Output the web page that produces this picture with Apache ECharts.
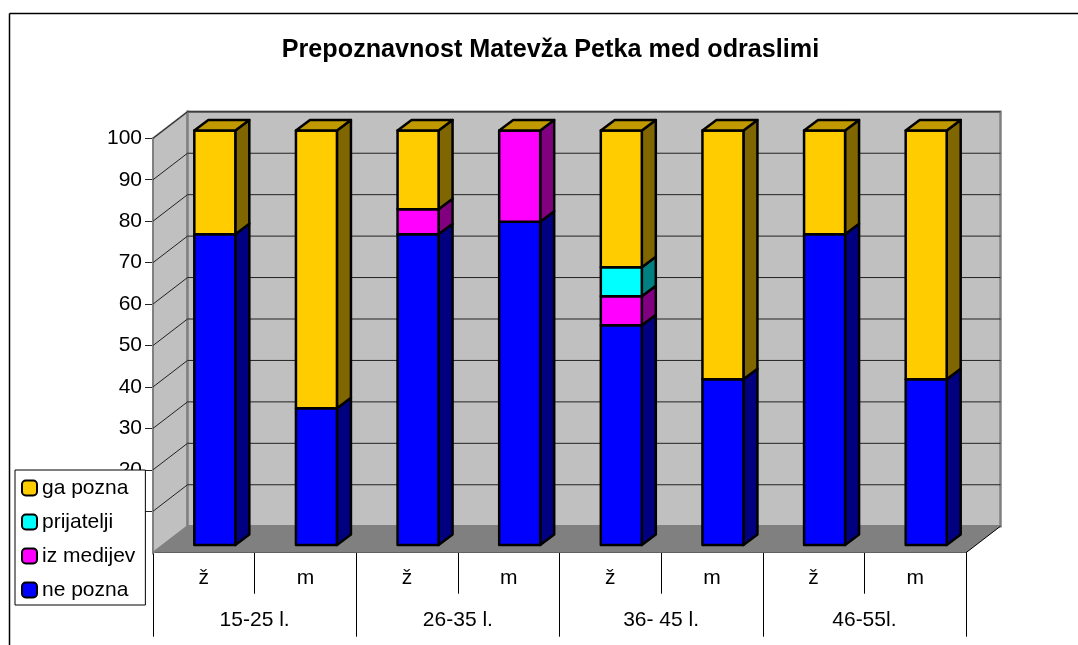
<!DOCTYPE html>
<html>
<head>
<meta charset="utf-8">
<title>Prepoznavnost Matevža Petka med odraslimi</title>
<script src="https://cdn.jsdelivr.net/npm/echarts@6/dist/echarts.min.js"></script>
<style>
  html, body { margin: 0; padding: 0; background: #fff; }
  #chart { width: 1078px; height: 645px; }
</style>
</head>
<body>
<div id="chart"></div>
<script>
const genders = ['ž', 'm', 'ž', 'm', 'ž', 'm', 'ž', 'm'];
const ageGroups = ['15-25 l.', '26-35 l.', '36- 45 l.', '46-55l.'];
const yTicks = [10, 20, 30, 40, 50, 60, 70, 80, 90, 100];

const nePozna = [75, 33, 75, 78, 53, 40, 75, 40];
const izMedijev = [0, 0, 6, 22, 7, 0, 0, 0];
const prijatelji = [0, 0, 0, 0, 7, 0, 0, 0];
const gaPozna = [25, 67, 19, 0, 33, 60, 25, 60];

const fontFamily = '"Liberation Sans", Arial, sans-serif';

// 3d look: how far the back wall and the bars are shifted from the front plane
const wallDx = 34.5, wallDy = -26.5;
const barDx = 11, barDy = -7.7, barW = 41;
const depthDx = 14, depthDy = -10.5;

const myChart = echarts.init(document.getElementById('chart'));

// running totals, so every segment knows where it starts
const totals = genders.map(() => 0);
function segments(values) {
  return values.map((v, i) => {
    const start = totals[i];
    totals[i] += v;
    return [i, start, totals[i]];
  });
}

function barItem(color, side, top) {
  return function (params, api) {
    const from = api.value(1), to = api.value(2);
    const p0 = api.coord([api.value(0), from]);
    const p1 = api.coord([api.value(0), to]);
    const x0 = p0[0] + barDx - barW / 2, x1 = x0 + barW;
    const y0 = p0[1] + barDy, y1 = p1[1] + barDy;
    const line = { stroke: '#000', lineWidth: 2.5, lineJoin: 'round' };
    const children = [];
    if (to > from) {
      children.push(
        { type: 'polygon', shape: { points: [[x1, y0], [x1 + depthDx, y0 + depthDy], [x1 + depthDx, y1 + depthDy], [x1, y1]] },
          style: Object.assign({ fill: side }, line) },
        { type: 'rect', shape: { x: x0, y: y1, width: barW, height: y0 - y1 },
          style: Object.assign({ fill: color }, line) }
      );
    }
    // the top series keeps its lid even where its value is 0
    if (top) {
      children.push({ type: 'polygon', shape: { points: [[x0, y1], [x0 + depthDx, y1 + depthDy], [x1 + depthDx, y1 + depthDy], [x1, y1]] },
        style: Object.assign({ fill: top }, line) });
    }
    return { type: 'group', children: children };
  };
}

function barSeries(name, values, color, side, top) {
  return {
    name: name,
    type: 'custom',
    data: segments(values),
    encode: { x: 0, y: [1, 2] },
    itemStyle: { color: color },
    renderItem: barItem(color, side, top),
    z: 5
  };
}

// walls and floor
function renderWalls(params, api) {
  const g = params.coordSys;
  const l = g.x, r = g.x + g.width, t = g.y, b = g.y + g.height;
  const grey = '#808080';
  return {
    type: 'group',
    children: [
      { type: 'polygon', shape: { points: [[l, t], [l + wallDx, t + wallDy], [l + wallDx, b + wallDy], [l, b]] },
        style: { fill: '#C0C0C0', stroke: grey, lineWidth: 2 } },
      { type: 'rect', shape: { x: l + wallDx, y: t + wallDy, width: g.width, height: g.height },
        style: { fill: '#C0C0C0', stroke: grey, lineWidth: 2.5 } },
      { type: 'polygon', shape: { points: [[l, b], [l + wallDx, b + wallDy], [r + wallDx, b + wallDy], [r, b]] },
        style: { fill: grey } },
      { type: 'line', shape: { x1: r, y1: b, x2: r + wallDx, y2: b + wallDy }, style: { stroke: '#000', lineWidth: 1 } }
    ]
  };
}

function renderGridLine(params, api) {
  const g = params.coordSys;
  const y = api.coord([0, api.value(0)])[1];
  const style = { stroke: '#222', lineWidth: 1 };
  return {
    type: 'group',
    children: [
      { type: 'line', shape: { x1: g.x, y1: y, x2: g.x + wallDx, y2: y + wallDy }, style: style },
      { type: 'line', shape: { x1: g.x + wallDx, y1: y + wallDy, x2: g.x + g.width + wallDx, y2: y + wallDy }, style: style }
    ]
  };
}

const option = {
  animation: false,
  backgroundColor: '#fff',
  textStyle: { fontFamily: fontFamily, color: '#000' },
  title: {
    text: 'Prepoznavnost Matevža Petka med odraslimi',
    left: 545.5,
    top: 33,
    textAlign: 'center',
    textStyle: { fontFamily: fontFamily, fontSize: 25.2, fontWeight: 'bold', color: '#000' }
  },
  legend: {
    orient: 'vertical',
    left: 15,
    top: 470,
    padding: [7.5, 10, 4.5, 6],
    itemWidth: 15,
    itemHeight: 15,
    itemGap: 13,
    icon: 'roundRect',
    z: 20,
    backgroundColor: '#fff',
    borderColor: '#000',
    borderWidth: 1,
    borderRadius: 0,
    itemStyle: { borderColor: '#000', borderWidth: 2 },
    textStyle: { fontFamily: fontFamily, fontSize: 21, color: '#000' },
    data: ['ga pozna', 'prijatelji', 'iz medijev', 'ne pozna']
  },
  grid: { left: 153, right: 112, top: 138.3, bottom: 92.3 },
  xAxis: [
    {
      type: 'category',
      data: genders,
      axisLine: { lineStyle: { color: '#000', width: 1 } },
      axisTick: { show: true, interval: 0, length: 41, lineStyle: { color: '#000' } },
      axisLabel: { interval: 0, margin: 15, fontSize: 21, color: '#000', fontFamily: fontFamily }
    },
    {
      type: 'category',
      position: 'bottom',
      data: ageGroups,
      axisLine: { lineStyle: { color: '#000', width: 1 } },
      axisTick: { show: true, interval: 0, length: 84, lineStyle: { color: '#000' } },
      axisLabel: { interval: 0, margin: 57, fontSize: 21, color: '#000', fontFamily: fontFamily }
    }
  ],
  yAxis: {
    type: 'value',
    min: 0,
    max: 100,
    interval: 10,
    splitLine: { show: false },
    axisLine: { show: true, lineStyle: { color: '#808080', width: 2 } },
    axisTick: { show: true, length: 8, customValues: yTicks, lineStyle: { color: '#222' } },
    axisLabel: { margin: 11, fontSize: 21, color: '#000', fontFamily: fontFamily, customValues: yTicks }
  },
  graphic: [
    { type: 'line', shape: { x1: 9.5, y1: 13.5, x2: 1078, y2: 13.5 }, style: { stroke: '#000', lineWidth: 1.5 }, z: 30 },
    { type: 'line', shape: { x1: 9.5, y1: 13.5, x2: 9.5, y2: 645 }, style: { stroke: '#000', lineWidth: 1.5 }, z: 30 }
  ],
  series: [
    { type: 'custom', data: [0], renderItem: renderWalls, z: 1, silent: true, encode: { y: 0 } },
    { type: 'custom', data: yTicks, renderItem: renderGridLine, z: 2, silent: true, encode: { y: 0 } },
    barSeries('ne pozna', nePozna, '#0000FF', '#000080'),
    barSeries('iz medijev', izMedijev, '#FF00FF', '#800080'),
    barSeries('prijatelji', prijatelji, '#00FFFF', '#008080'),
    barSeries('ga pozna', gaPozna, '#FFCC00', '#806600', '#C09900')
  ]
};

myChart.setOption(option);
</script>
</body>
</html>
